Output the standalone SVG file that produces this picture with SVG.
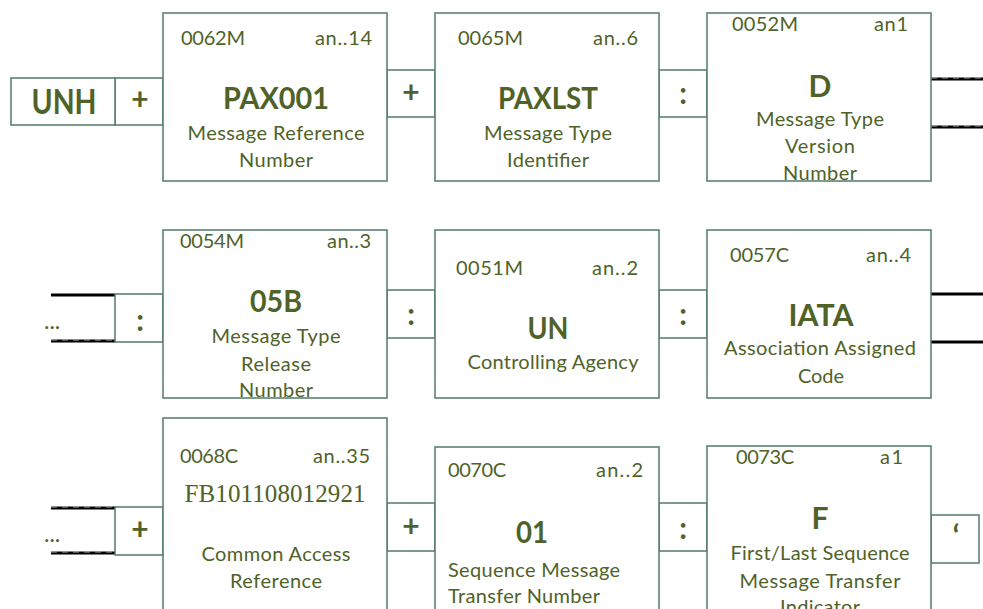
<svg xmlns="http://www.w3.org/2000/svg" width="983" height="609" viewBox="0 0 983 609">
<style>
.box{fill:#fff;stroke:#52796a;stroke-width:1.5}
.t{font-family:Lato,"Open Sans","Liberation Sans",sans-serif;fill:#4F6228;font-size:20px}
.m{text-anchor:middle}
.e{text-anchor:end}
.ti{font-size:30px;font-weight:bold;text-anchor:middle}
.sy{font-size:30px;font-weight:bold;text-anchor:middle}
.big{font-size:35px;font-weight:bold;text-anchor:middle}
.dots{font-size:23px}
.sr{font-family:"Liberation Serif","Times New Roman",serif;font-size:25px;fill:#4F6228;text-anchor:middle}
.blk{stroke:#000;stroke-width:3}
.dsh{stroke:#aaa;stroke-width:1;stroke-dasharray:6 5}
</style>
<rect width="983" height="609" fill="#fff"/>
<g id="connectors">
  <rect class="box" x="115" y="78" width="48" height="47"/>
  <text class="t sy" x="140" y="110">+</text>
  <rect class="box" x="387" y="70" width="48" height="47"/>
  <text class="t sy" x="411" y="103">+</text>
  <rect class="box" x="659" y="70" width="48" height="47"/>
  <text class="t sy" x="683" y="104">:</text>
  <line class="blk" x1="931" y1="79" x2="983" y2="79"/>
  <line class="dsh" x1="931" y1="78" x2="983" y2="78"/>
  <line class="blk" x1="931" y1="127" x2="983" y2="127"/>
  <line class="dsh" x1="931" y1="126" x2="983" y2="126"/>
  <line class="blk" x1="51" y1="295" x2="115" y2="295"/>
  <line class="blk" x1="51" y1="341" x2="115" y2="341"/>
  <line class="dsh" x1="51" y1="340" x2="115" y2="340"/>
  <text class="t dots" x="44" y="329">...</text>
  <rect class="box" x="115" y="294" width="48" height="48"/>
  <text class="t sy" x="140" y="331">:</text>
  <rect class="box" x="387" y="290" width="48" height="48"/>
  <text class="t sy" x="411" y="325">:</text>
  <rect class="box" x="659" y="290" width="48" height="48"/>
  <text class="t sy" x="683" y="325">:</text>
  <line class="blk" x1="931" y1="294" x2="983" y2="294"/>
  <line class="blk" x1="931" y1="342" x2="983" y2="342"/>
  <line class="blk" x1="51" y1="508" x2="115" y2="508"/>
  <line class="dsh" x1="51" y1="507" x2="115" y2="507"/>
  <line class="blk" x1="51" y1="553" x2="115" y2="553"/>
  <line class="dsh" x1="51" y1="552" x2="115" y2="552"/>
  <text class="t dots" x="44" y="542">...</text>
  <rect class="box" x="115" y="507" width="48" height="48"/>
  <text class="t sy" x="140" y="540">+</text>
  <rect class="box" x="387" y="503" width="48" height="48"/>
  <text class="t sy" x="411" y="537">+</text>
  <rect class="box" x="659" y="503" width="48" height="48"/>
  <text class="t sy" x="683" y="539">:</text>
  <rect class="box" x="931" y="515" width="48" height="48"/>
  <text class="t sy" x="956" y="547">‘</text>
</g>
<g id="unh">
  <rect class="box" x="11" y="78" width="104" height="47"/>
  <text class="t big" x="64" y="114" textLength="65" lengthAdjust="spacingAndGlyphs">UNH</text>
</g>
<g id="n0062">
  <rect class="box" x="163" y="13" width="224" height="168"/>
  <text class="t" x="181" y="45" textLength="64">0062M</text>
  <text class="t e" x="372" y="45" textLength="57">an..14</text>
  <text class="t ti" x="276" y="109" textLength="106" lengthAdjust="spacingAndGlyphs">PAX001</text>
  <text class="t m" x="276" y="140" textLength="177">Message Reference</text>
  <text class="t m" x="276" y="167" textLength="74">Number</text>
</g>
<g id="n0065">
  <rect class="box" x="435" y="13" width="224" height="168"/>
  <text class="t" x="458" y="45" textLength="65">0065M</text>
  <text class="t e" x="638" y="45" textLength="45">an..6</text>
  <text class="t ti" x="548" y="109" textLength="100" lengthAdjust="spacingAndGlyphs">PAXLST</text>
  <text class="t m" x="548" y="140" textLength="128">Message Type</text>
  <text class="t m" x="548" y="167" textLength="82">Identifier</text>
</g>
<g id="n0052">
  <rect class="box" x="707" y="13" width="224" height="168"/>
  <text class="t" x="732" y="31" textLength="66">0052M</text>
  <text class="t e" x="908" y="31" textLength="34">an1</text>
  <text class="t ti" x="820" y="97">D</text>
  <text class="t m" x="820" y="126" textLength="128">Message Type</text>
  <text class="t m" x="820" y="153" textLength="70">Version</text>
  <text class="t m" x="820" y="180" textLength="74">Number</text>
</g>
<g id="n0054">
  <rect class="box" x="163" y="230" width="224" height="168"/>
  <text class="t" x="180" y="248" textLength="64">0054M</text>
  <text class="t e" x="371" y="248" textLength="44">an..3</text>
  <text class="t ti" x="276" y="312" textLength="52" lengthAdjust="spacingAndGlyphs">05B</text>
  <text class="t m" x="276" y="343" textLength="129">Message Type</text>
  <text class="t m" x="276" y="371" textLength="70">Release</text>
  <text class="t m" x="276" y="397" textLength="74">Number</text>
</g>
<g id="n0051">
  <rect class="box" x="435" y="230" width="224" height="168"/>
  <text class="t" x="456" y="275" textLength="67">0051M</text>
  <text class="t e" x="638" y="275" textLength="46">an..2</text>
  <text class="t ti" x="548" y="339" textLength="41" lengthAdjust="spacingAndGlyphs">UN</text>
  <text class="t m" x="553" y="369" textLength="171">Controlling Agency</text>
</g>
<g id="n0057">
  <rect class="box" x="707" y="230" width="224" height="168"/>
  <text class="t" x="730" y="262" textLength="59">0057C</text>
  <text class="t e" x="911" y="262" textLength="45">an..4</text>
  <text class="t ti" x="821" y="326" textLength="65" lengthAdjust="spacingAndGlyphs">IATA</text>
  <text class="t m" x="820" y="355" textLength="192">Association Assigned</text>
  <text class="t m" x="821" y="383" textLength="46">Code</text>
</g>
<g id="n0068">
  <rect class="box" x="163" y="418" width="224" height="200"/>
  <text class="t" x="180" y="463" textLength="58">0068C</text>
  <text class="t e" x="370" y="463" textLength="57">an..35</text>
  <text class="sr" x="275" y="502" textLength="181">FB101108012921</text>
  <text class="t m" x="276" y="561" textLength="149">Common Access</text>
  <text class="t m" x="276" y="588" textLength="92">Reference</text>
</g>
<g id="n0070">
  <rect class="box" x="435" y="447" width="224" height="171"/>
  <text class="t" x="448" y="477" textLength="58">0070C</text>
  <text class="t e" x="643" y="477" textLength="47">an..2</text>
  <text class="t ti" x="532" y="543" textLength="32" lengthAdjust="spacingAndGlyphs">01</text>
  <text class="t" x="448" y="577" textLength="172">Sequence Message</text>
  <text class="t" x="448" y="603" textLength="152">Transfer Number</text>
</g>
<g id="n0073">
  <rect class="box" x="707" y="446" width="224" height="172"/>
  <text class="t" x="736" y="464" textLength="58">0073C</text>
  <text class="t e" x="903" y="464" textLength="23">a1</text>
  <text class="t ti" x="820" y="529">F</text>
  <text class="t m" x="820" y="560" textLength="179">First/Last Sequence</text>
  <text class="t m" x="820" y="588" textLength="161">Message Transfer</text>
  <text class="t m" x="820" y="614" textLength="80">Indicator</text>
</g>
</svg>
